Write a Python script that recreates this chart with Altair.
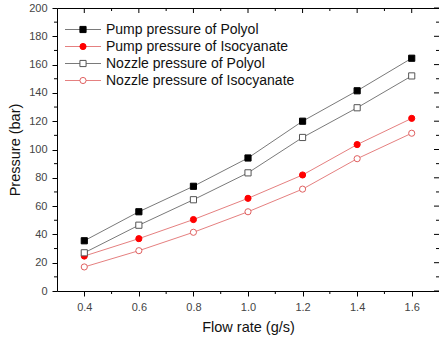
import altair as alt
import pandas as pd

flow = [0.4, 0.6, 0.8, 1.0, 1.2, 1.4, 1.6]
pump_polyol = [35.5, 56, 74, 94, 120, 141.5, 164.5]
pump_iso = [24.7, 37, 50.5, 65.5, 82, 103.5, 122]
nozzle_polyol = [27, 46.5, 64.5, 83.5, 108.5, 129.5, 152]
nozzle_iso = [17, 28.5, 41.5, 56, 72, 93.5, 111.5]

series_names = [
    "Pump pressure of Polyol",
    "Pump pressure of Isocyanate",
    "Nozzle pressure of Polyol",
    "Nozzle pressure of Isocyanate",
]
series_values = [pump_polyol, pump_iso, nozzle_polyol, nozzle_iso]

x_major = [0.4, 0.6, 0.8, 1.0, 1.2, 1.4, 1.6]
x_minor = [0.5, 0.7, 0.9, 1.1, 1.3, 1.5]
y_major = [0, 20, 40, 60, 80, 100, 120, 140, 160, 180, 200]
y_minor = [10, 30, 50, 70, 90, 110, 130, 150, 170, 190]

# styles
line_colors = ["#7a7a7a", "#e58080", "#7a7a7a", "#e58080"]
shapes = ["square", "circle", "square", "circle"]
fills = ["#000000", "#ff0000", "#ffffff", "#ffffff"]
strokes = ["#000000", "#ff0000", "#555555", "#e06060"]

W, H = 382, 283
FONT = "Liberation Sans"

rows = []
for name, vals in zip(series_names, series_values):
    for f, v in zip(flow, vals):
        rows.append({"series": name, "flow": f, "pressure": v})
df = pd.DataFrame(rows)

xscale = alt.Scale(domain=[0.3, 1.7], nice=False, zero=False)
yscale = alt.Scale(domain=[0, 200], nice=False)

xaxis = alt.Axis(values=x_major, format=".1f", title="Flow rate (g/s)",
                 grid=False, tickSize=5, tickColor="black", domain=False,
                 labelFontSize=11, labelColor="#444444", labelFont=FONT,
                 labelOverlap=False,
                 titleFont=FONT, titleFontSize=14.5, titleFontWeight="normal",
                 titleColor="#111111", labelPadding=5, titlePadding=8)
yaxis = alt.Axis(values=y_major, title="Pressure (bar)", grid=False,
                 tickSize=5, tickColor="black", domain=False,
                 labelFontSize=11, labelColor="#444444", labelFont=FONT,
                 labelOverlap=False,
                 titleFont=FONT, titleFontSize=14.5, titleFontWeight="normal",
                 titleColor="#111111", labelPadding=5, titlePadding=6)

base = alt.Chart(df)

lines = base.mark_line(strokeWidth=1).encode(
    x=alt.X("flow:Q", scale=xscale, axis=xaxis),
    y=alt.Y("pressure:Q", scale=yscale, axis=yaxis),
    color=alt.Color("series:N", scale=alt.Scale(domain=series_names, range=line_colors), legend=None),
    detail="series:N",
)

points = base.mark_point(size=38, strokeWidth=1, opacity=1).encode(
    x=alt.X("flow:Q", scale=xscale, axis=xaxis),
    y=alt.Y("pressure:Q", scale=yscale, axis=yaxis),
    shape=alt.Shape("series:N", scale=alt.Scale(domain=series_names, range=shapes), legend=None),
    fill=alt.Fill("series:N", scale=alt.Scale(domain=series_names, range=fills), legend=None),
    stroke=alt.Stroke("series:N", scale=alt.Scale(domain=series_names, range=strokes), legend=None),
)

# minor / mirrored ticks
xminor_df = pd.DataFrame({"flow": x_minor})
xmajor_df = pd.DataFrame({"flow": x_major})
yminor_df = pd.DataFrame({"pressure": y_minor})
ymajor_df = pd.DataFrame({"pressure": y_major})

tick_layers = [
    alt.Chart(xminor_df).mark_rule(color="black", strokeWidth=1).encode(
        x=alt.X("flow:Q", scale=xscale, axis=xaxis), y=alt.value(H), y2=alt.value(H + 3)),
    alt.Chart(xminor_df).mark_rule(color="black", strokeWidth=1).encode(
        x=alt.X("flow:Q", scale=xscale, axis=xaxis), y=alt.value(0), y2=alt.value(3)),
    alt.Chart(xmajor_df).mark_rule(color="black", strokeWidth=1).encode(
        x=alt.X("flow:Q", scale=xscale, axis=xaxis), y=alt.value(0), y2=alt.value(5)),
    alt.Chart(yminor_df).mark_rule(color="black", strokeWidth=1).encode(
        y=alt.Y("pressure:Q", scale=yscale, axis=yaxis), x=alt.value(-3), x2=alt.value(0)),
    alt.Chart(yminor_df).mark_rule(color="black", strokeWidth=1).encode(
        y=alt.Y("pressure:Q", scale=yscale, axis=yaxis), x=alt.value(W - 3), x2=alt.value(W)),
    alt.Chart(ymajor_df).mark_rule(color="black", strokeWidth=1).encode(
        y=alt.Y("pressure:Q", scale=yscale, axis=yaxis), x=alt.value(W - 5), x2=alt.value(W)),
]

# manual legend
leg_y0, leg_dy = 21.5, 17
leg_layers = []
dummy = pd.DataFrame({"a": [0]})
for i, name in enumerate(series_names):
    yy = leg_y0 + i * leg_dy
    leg_layers.append(alt.Chart(dummy).mark_rule(color=line_colors[i], strokeWidth=1).encode(
        x=alt.value(8), x2=alt.value(44), y=alt.value(yy)))
    leg_layers.append(alt.Chart(dummy).mark_point(
        shape=shapes[i], size=38, fill=fills[i], stroke=strokes[i], strokeWidth=1, opacity=1
    ).encode(x=alt.value(26), y=alt.value(yy)))
    leg_layers.append(alt.Chart(dummy).mark_text(
        text=name, align="left", baseline="middle", font=FONT, fontSize=14, color="#111111"
    ).encode(x=alt.value(49), y=alt.value(yy)))

chart = alt.layer(lines, points, *tick_layers, *leg_layers).properties(
    width=W, height=H,
    autosize=alt.AutoSizeParams(type="none"),
    padding={"left": 57, "top": 8, "right": 0, "bottom": 48},
    background="white",
).configure_view(stroke="black", strokeWidth=1)

chart.save("out.html", embed_options={"renderer": "svg", "actions": False})
